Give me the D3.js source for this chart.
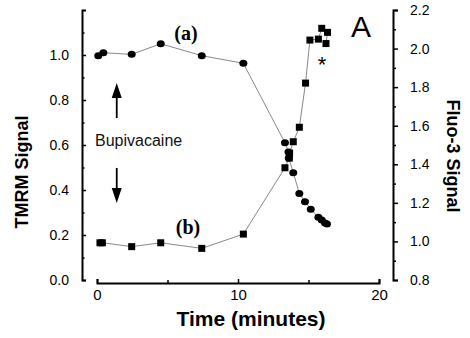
<!DOCTYPE html>
<html>
<head>
<meta charset="utf-8">
<script src="https://cdn.jsdelivr.net/npm/d3@7"></script>
<style>
  body { margin: 0; background: #fff; }
  svg { display: block; }
  text { font-family: Arial, "Liberation Sans", sans-serif; }
</style>
</head>
<body>
<div id="chart"></div>
<script>
// (a) TMRM signal (circles, left axis)
const timeA = [0.09, 0.45, 2.46, 4.52, 7.43, 10.38, 13.33, 13.58, 13.6, 13.92, 14.35, 14.75, 15.16, 15.70, 15.94, 16.17, 16.31];
const tmrm  = [0.997, 1.010, 1.003, 1.050, 0.997, 0.963, 0.610, 0.569, 0.542, 0.477, 0.385, 0.348, 0.314, 0.279, 0.267, 0.253, 0.249];

// (b) Fluo-3 signal (squares, right axis)
const timeB = [0.21, 0.38, 2.46, 4.52, 7.43, 10.38, 13.33, 13.64, 13.66, 13.92, 14.35, 14.79, 15.10, 15.70, 15.94, 16.35, 16.24];
const fluo3 = [0.993, 0.993, 0.973, 0.993, 0.964, 1.038, 1.382, 1.432, 1.458, 1.517, 1.592, 1.821, 2.044, 2.049, 2.105, 2.084, 2.026];

const xTicks = [0, 10, 20];
const xMinor = [5, 15];
const leftTicks = [0, 0.2, 0.4, 0.6, 0.8, 1.0];
const leftMinor = [0.1, 0.3, 0.5, 0.7, 0.9, 1.1];
const rightTicks = [0.8, 1.0, 1.2, 1.4, 1.6, 1.8, 2.0, 2.2];
const rightMinor = [0.9, 1.1, 1.3, 1.5, 1.7, 1.9, 2.1];

const W = 470, H = 338;
const svg = d3.select("#chart").append("svg")
    .attr("width", W)
    .attr("height", H);

const x = d3.scaleLinear().domain([0, 20]).range([97, 379]);
const yL = d3.scaleLinear().domain([0, 1.2]).range([280, 10]);
const yR = d3.scaleLinear().domain([0.8, 2.2]).range([280, 10]);

function styleAxis(g) {
    g.select(".domain").attr("stroke", "#000").attr("stroke-width", 2);
    g.selectAll(".tick line").attr("stroke", "#000").attr("stroke-width", 1.5);
    g.selectAll(".tick text").attr("font-size", 14).attr("fill", "#000")
        .attr("font-family", "Arial, 'Liberation Sans', sans-serif");
}

// left axis, ticks pointing in
svg.append("g")
    .attr("transform", "translate(82,0)")
    .call(d3.axisLeft(yL).tickValues(leftTicks).tickFormat(d3.format(".1f"))
        .tickSize(-4).tickSizeOuter(-4).tickPadding(13))
    .call(styleAxis);
svg.append("g")
    .attr("transform", "translate(82,0)")
    .call(d3.axisLeft(yL).tickValues(leftMinor).tickFormat("").tickSize(-2.5))
    .call(g => g.select(".domain").remove())
    .call(styleAxis);

// right axis
svg.append("g")
    .attr("transform", "translate(393,0)")
    .call(d3.axisRight(yR).tickValues(rightTicks).tickFormat(d3.format(".1f"))
        .tickSize(5).tickSizeOuter(5).tickPadding(12))
    .call(styleAxis);
svg.append("g")
    .attr("transform", "translate(393,0)")
    .call(d3.axisRight(yR).tickValues(rightMinor).tickFormat("").tickSize(3))
    .call(g => g.select(".domain").remove())
    .call(styleAxis);

// x axis
svg.append("g")
    .attr("transform", "translate(0,283)")
    .call(d3.axisBottom(x).tickValues(xTicks).tickSize(-4).tickSizeOuter(-4).tickPadding(6))
    .call(styleAxis)
    .call(g => g.selectAll(".tick text").attr("font-size", 15));
svg.append("g")
    .attr("transform", "translate(0,283)")
    .call(d3.axisBottom(x).tickValues(xMinor).tickFormat("").tickSize(-3))
    .call(g => g.select(".domain").remove())
    .call(styleAxis);

// lines
const lineA = d3.line().x((d, i) => x(timeA[i])).y(d => yL(d));
const lineB = d3.line().x((d, i) => x(timeB[i])).y(d => yR(d));

svg.append("path").datum(tmrm)
    .attr("d", lineA).attr("fill", "none").attr("stroke", "#888").attr("stroke-width", 1);
svg.append("path").datum(fluo3)
    .attr("d", lineB).attr("fill", "none").attr("stroke", "#888").attr("stroke-width", 1);

// markers
svg.selectAll("ellipse.a").data(tmrm).enter().append("ellipse")
    .attr("class", "a")
    .attr("cx", (d, i) => x(timeA[i]))
    .attr("cy", d => yL(d))
    .attr("rx", 4).attr("ry", 3.5)
    .attr("fill", "#000");

const sq = 7;
svg.selectAll("rect.b").data(fluo3).enter().append("rect")
    .attr("class", "b")
    .attr("x", (d, i) => x(timeB[i]) - sq / 2)
    .attr("y", d => yR(d) - sq / 2)
    .attr("width", sq).attr("height", sq)
    .attr("fill", "#000");

// annotations
svg.append("text").attr("x", 186).attr("y", 40)
    .attr("text-anchor", "middle")
    .style("font-family", "'Liberation Serif', 'Times New Roman', serif")
    .attr("font-weight", "bold").attr("font-size", 20).text("(a)");
svg.append("text").attr("x", 188).attr("y", 234)
    .attr("text-anchor", "middle")
    .style("font-family", "'Liberation Serif', 'Times New Roman', serif")
    .attr("font-weight", "bold").attr("font-size", 20).text("(b)");

svg.append("text").attr("x", 95).attr("y", 146)
    .attr("font-size", 16).attr("fill", "#111").text("Bupivacaine");

function arrow(t, v0, v1) {
    const ax = x(t), y0 = yL(v0), y1 = yL(v1);
    const dir = y1 < y0 ? 1 : -1;
    svg.append("line").attr("x1", ax).attr("x2", ax)
        .attr("y1", y0).attr("y2", y1 + dir * 10)
        .attr("stroke", "#000").attr("stroke-width", 1.8);
    svg.append("path")
        .attr("d", `M${ax},${y1} L${ax - 5},${y1 + dir * 15} L${ax + 5},${y1 + dir * 15} Z`)
        .attr("fill", "#000");
}
arrow(1.4, 0.72, 0.876);
arrow(1.4, 0.498, 0.342);

svg.append("text").attr("x", 322).attr("y", 72)
    .attr("text-anchor", "middle").attr("font-size", 22).text("*");

svg.append("text").attr("x", 351).attr("y", 37)
    .attr("font-size", 30).text("A");

// axis titles
svg.append("text")
    .attr("transform", "translate(28,172) rotate(-90)")
    .attr("text-anchor", "middle")
    .attr("font-weight", "bold").attr("font-size", 18).text("TMRM Signal");
svg.append("text")
    .attr("transform", "translate(447,156) rotate(90)")
    .attr("text-anchor", "middle")
    .attr("font-weight", "bold").attr("font-size", 18).text("Fluo-3 Signal");
svg.append("text").attr("x", 251).attr("y", 326)
    .attr("text-anchor", "middle")
    .attr("font-weight", "bold").attr("font-size", 21).text("Time (minutes)");
</script>
</body>
</html>
